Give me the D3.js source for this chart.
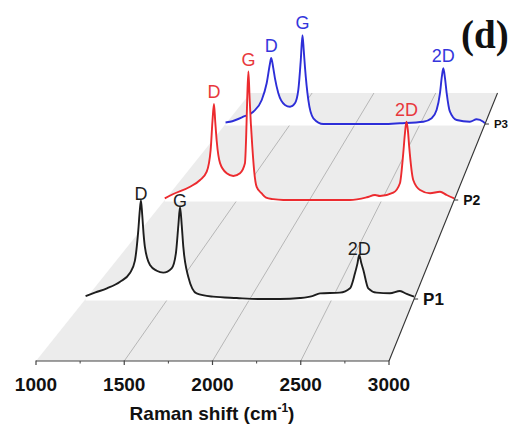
<!DOCTYPE html>
<html><head><meta charset="utf-8">
<script src="https://cdn.jsdelivr.net/npm/d3@7"></script>
<style>html,body{margin:0;padding:0;background:#fff;} svg{display:block;}</style>
</head><body><svg id="c" width="510" height="426"></svg>
<script>
// ---------------- data ----------------
const seriesNames = ["P1", "P2", "P3"];
const seriesDepth = [1, 2, 3];
const xTicks = [1000, 1500, 2000, 2500, 3000];
const xMinorTicks = [1250, 1750, 2250, 2750];
const xGrid = [1500, 2000, 2500];
const peakNames = ["D", "G", "2D"];
const peakNominal = [1340, 1585, 2670];

const p1Wave = [1000,1060,1130,1210,1270,1300,1321,1330,1337,1345,1353,1361,1392,1433,1473,1524,1550,1565,1575,1585,1595,1625,1676,1776,1920,2050,2184,2305,2380,2427,2548,2610,2640,2655,2666,2678,2691,2721,2772,2853,2914,2955,3000];
const p1Int  = [3,7,11.5,18.6,27.9,41,74,95,106,90,70,56,36.5,30.4,28.3,33,49.4,79.5,99,80,56,24,6,2.5,1,0,0,1,3,6,6.8,11.5,27.6,38,47.3,39,31.2,11.5,6.8,6.1,8.6,5.4,2.5];

const p2Wave = [1000,1059,1175,1244,1290,1317,1330,1340,1349,1359,1382,1428,1474,1520,1554,1563,1570,1578,1586,1595,1605,1618,1635,1670,1700,1750,1819,2050,2280,2396,2453,2487,2579,2625,2648,2660,2670,2680,2689,2717,2764,2833,2902,2948,3000];
const p2Int  = [2,7.3,16.2,24.4,34.5,61,97,117,95,72,45,32.6,29.3,32.6,44.8,80,125,156.7,125,93,65,35,16,8,3,1,0,0,0,3.3,6.1,4.9,8.9,20.4,57,82,95.5,85,65,24.4,12.2,8.2,10.1,6.1,2];

const p3Wave = [1000,1035,1137,1214,1279,1317,1343,1352,1368,1381,1407,1458,1497,1535,1561,1580,1593,1603,1612,1638,1677,1754,1850,2216,2345,2525,2589,2627,2653,2668,2679,2692,2705,2730,2782,2884,2936,2987,3000];
const p3Int  = [2,3,9.9,16.7,32.7,55.4,82.6,90,76,62,41.8,25.9,23.5,28.2,46.3,87,121,100,78,32.7,7.8,0,0,0,1,3.1,7.8,19,41.8,65,75.8,62,41.8,16.7,5.4,3.1,6.4,3.1,1];

const seriesWave = [p1Wave, p2Wave, p3Wave];
const seriesInt = [p1Int, p2Int, p3Int];

// ---------------- layout / style ----------------
const colors = ["#1e1e1e", "#ec2b2f", "#2d2ed8"];
const labelColors = ["#1e1e1e", "#e8383c", "#3536dc"];
const labelGap = [0, 6, 6];
const pLabelSize = [17, 14, 11.5];
const FRONT_Y = 361, VX = 751, VY = -533;
const floorBack = 3.4;

const svg = d3.select("#c");
const xFront = d3.scaleLinear().domain([1000, 3000]).range([36, 389]);
const depthY = d3.scaleLinear().domain([0, 1, 2, 3, floorBack]).range([FRONT_Y, 299, 200, 124, 93]);

function persp(depth) { return (depthY(depth) - VY) / (FRONT_Y - VY); }
function planeX(depth) {
  const s = persp(depth);
  return d3.scaleLinear().domain(xFront.domain()).range(xFront.range().map(v => VX + (v - VX) * s));
}
function planeI(depth) {
  const s = persp(depth), Y = depthY(depth);
  return d3.scaleLinear().domain([0, 100]).range([Y, Y - 100 * s]);
}

// floor
const xf = planeX(0), xb = planeX(floorBack);
const floorPts = [[xf(1000), depthY(0)], [xf(3000), depthY(0)], [xb(3000), depthY(floorBack)], [xb(1000), depthY(floorBack)]];
svg.append("path").attr("d", d3.line()(floorPts) + "Z").attr("fill", "#ececec");

// grid lines
xGrid.forEach(w => {
  svg.append("line")
    .attr("x1", xf(w)).attr("y1", depthY(0))
    .attr("x2", xb(w)).attr("y2", depthY(floorBack))
    .attr("stroke", "#a8a8a8").attr("stroke-width", 0.8);
});

// white plane separators
seriesDepth.forEach(d => {
  const px = planeX(d);
  svg.append("line")
    .attr("x1", px(1000)).attr("x2", px(3000))
    .attr("y1", depthY(d) + 0.5).attr("y2", depthY(d) + 0.5)
    .attr("stroke", "#fff").attr("stroke-width", 2.2);
});

// spectra (back to front)
for (let k = seriesNames.length - 1; k >= 0; k--) {
  const d = seriesDepth[k];
  const px = planeX(d), py = planeI(d);
  const pts = seriesWave[k].map((w, i) => [w, Math.max(0, seriesInt[k][i])]);
  const g = svg.append("g");
  g.append("path")
    .attr("d", d3.area().x(p => px(p[0])).y0(py(0)).y1(p => py(p[1])).curve(d3.curveMonotoneX)(pts))
    .attr("fill", "#fff");
  g.append("path")
    .attr("d", d3.line().x(p => px(p[0])).y(p => py(p[1])).curve(d3.curveMonotoneX)(pts))
    .attr("fill", "none").attr("stroke", colors[k]).attr("stroke-width", 1.9)
    .attr("stroke-linejoin", "round");
  // peak labels
  peakNames.forEach((name, j) => {
    let best = null;
    pts.forEach(p => { if (Math.abs(p[0] - peakNominal[j]) <= 45 && (!best || p[1] > best[1])) best = p; });
    g.append("text")
      .attr("x", px(best[0])).attr("y", py(best[1]) - labelGap[k])
      .attr("text-anchor", "middle")
      .attr("font-family", "Liberation Sans, Arial, sans-serif")
      .attr("font-size", 18).attr("fill", labelColors[k])
      .text(name);
  });
}

// depth axis (right edge)
svg.append("line")
  .attr("x1", xf(3000)).attr("y1", depthY(0))
  .attr("x2", xb(3000)).attr("y2", depthY(floorBack))
  .attr("stroke", "#333").attr("stroke-width", 1.1);
seriesDepth.forEach((d, k) => {
  const x = planeX(d)(3000), y = depthY(d);
  svg.append("line").attr("x1", x).attr("x2", x + 4).attr("y1", y).attr("y2", y)
    .attr("stroke", "#333").attr("stroke-width", 1);
  svg.append("text")
    .attr("x", x + 9).attr("y", y + pLabelSize[k] * 0.36)
    .attr("font-family", "Liberation Sans, Arial, sans-serif")
    .attr("font-weight", "bold").attr("font-size", pLabelSize[k]).attr("fill", "#111")
    .text(seriesNames[k]);
});

// front x axis
svg.append("line")
  .attr("x1", xFront(1000)).attr("x2", xFront(3000))
  .attr("y1", FRONT_Y).attr("y2", FRONT_Y)
  .attr("stroke", "#444").attr("stroke-width", 1.2);
xTicks.forEach(t => {
  svg.append("line").attr("x1", xFront(t)).attr("x2", xFront(t))
    .attr("y1", FRONT_Y - 0.5).attr("y2", FRONT_Y + 4)
    .attr("stroke", "#444").attr("stroke-width", 1.2);
  svg.append("text")
    .attr("x", xFront(t)).attr("y", 391)
    .attr("text-anchor", "middle")
    .attr("font-family", "Liberation Sans, Arial, sans-serif")
    .attr("font-weight", "bold").attr("font-size", 19).attr("fill", "#111")
    .text(t);
});
xMinorTicks.forEach(t => {
  svg.append("line").attr("x1", xFront(t)).attr("x2", xFront(t))
    .attr("y1", FRONT_Y).attr("y2", FRONT_Y + 2.5)
    .attr("stroke", "#444").attr("stroke-width", 1);
});

// axis title
const title = svg.append("text")
  .attr("x", 212).attr("y", 420)
  .attr("text-anchor", "middle")
  .attr("font-family", "Liberation Sans, Arial, sans-serif")
  .attr("font-weight", "bold").attr("font-size", 19).attr("fill", "#111");
title.append("tspan").text("Raman shift (cm");
title.append("tspan").attr("font-size", 12).attr("dy", -8).text("-1");
title.append("tspan").attr("dy", 8).text(")");

// panel label
svg.append("text")
  .attr("x", 461).attr("y", 48)
  .attr("font-family", "Liberation Serif, Times New Roman, serif")
  .attr("font-weight", "bold").attr("font-size", 39).attr("fill", "#111")
  .text("(d)");
</script>
</body></html>
